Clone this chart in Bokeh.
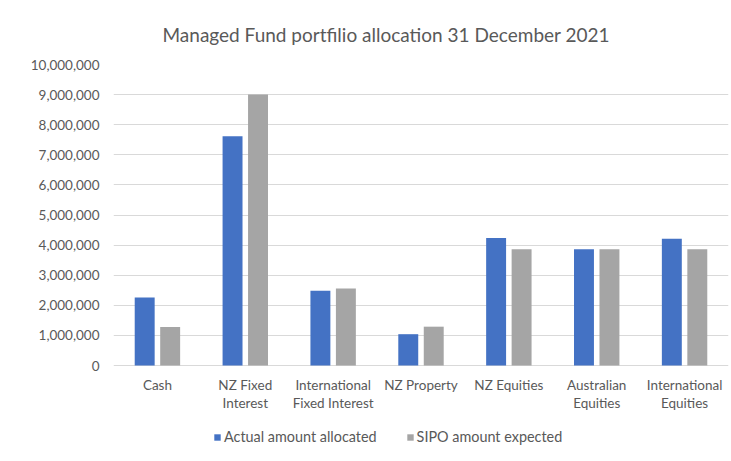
from bokeh.plotting import figure
from bokeh.models import (ColumnDataSource, Legend, LegendItem,
                          NumeralTickFormatter, FixedTicker, Range1d)
from bokeh.core.properties import value
from bokeh.transform import dodge
from bokeh.embed import file_html
from bokeh.resources import INLINE

categories = ["Cash", "NZ Fixed Interest", "International Fixed Interest",
              "NZ Property", "NZ Equities", "Australian Equities",
              "International Equities"]
label_line1 = ["Cash", "NZ Fixed", "International", "NZ Property",
               "NZ Equities", "Australian", "International"]
label_line2 = ["", "Interest", "Fixed Interest", "", "", "Equities", "Equities"]
actual = [2260000, 7620000, 2480000, 1040000, 4240000, 3860000, 4210000]
sipo = [1280000, 9000000, 2560000, 1290000, 3860000, 3860000, 3860000]
y_ticks = list(range(0, 10_000_001, 1_000_000))
series_names = ["Actual amount allocated", "SIPO amount expected"]
colors = ["#4472C4", "#A5A5A5"]
title_text = "Managed Fund portfilio allocation 31 December 2021"

FONT = "Lato"
TXT = "#595959"
Y_MAX = 10_000_000
# plot area: 301 px for the value axis, 96 px below it for labels + legend
Y_MIN = -Y_MAX * 96 / 301

pos = list(range(len(categories)))
source = ColumnDataSource(dict(pos=pos, cat=categories, actual=actual, sipo=sipo))
labels = ColumnDataSource(dict(pos=pos, line1=label_line1, line2=label_line2))

p = figure(x_range=Range1d(-0.5, len(categories) - 0.5),
           y_range=Range1d(Y_MIN, Y_MAX), x_axis_location=None,
           width=731, height=461, output_backend="svg", toolbar_location=None,
           min_border_left=113, min_border_right=3, min_border_top=64,
           min_border_bottom=0)

p.title.text = title_text
p.title.align = "left"
p.title.offset = 49
p.title.standoff = 37
p.title.text_line_height = 1.0
p.title.text_font = FONT
p.title.text_font_size = "19px"
p.title.text_font_style = "normal"
p.title.text_color = TXT

p.outline_line_color = None
p.xgrid.grid_line_color = None
p.ygrid.grid_line_color = "#D9D9D9"
p.ygrid.grid_line_width = 1

p.yaxis.ticker = FixedTicker(ticks=y_ticks)
p.yaxis.formatter = NumeralTickFormatter(format="0,0")
p.yaxis.axis_line_color = None
p.yaxis.major_tick_line_color = None
p.yaxis.major_tick_out = 0
p.yaxis.major_tick_in = 0
p.yaxis.minor_tick_line_color = None
p.yaxis.major_label_standoff = 14
p.yaxis.major_label_text_font = FONT
p.yaxis.major_label_text_font_size = "13.5px"
p.yaxis.major_label_text_color = TXT

r1 = p.vbar(x=dodge("pos", -0.145), top="actual", bottom=0, width=0.227,
            source=source, fill_color=colors[0], line_color=None)
r2 = p.vbar(x=dodge("pos", 0.145), top="sipo", bottom=0, width=0.227,
            source=source, fill_color=colors[1], line_color=None)

# category labels (two lines) hung below the zero line
for col, off in (("line1", 19), ("line2", 37)):
    p.text(x="pos", y=0, text=col, source=labels, y_offset=off,
           text_align="center", text_baseline="middle",
           text_font=value(FONT), text_font_size="13.5px", text_color=TXT)

legend = Legend(items=[LegendItem(label=series_names[0], renderers=[r1]),
                       LegendItem(label=series_names[1], renderers=[r2])],
                location=(100, 16), orientation="horizontal",
                glyph_width=8, glyph_height=8, label_height=16,
                label_standoff=3, spacing=29, padding=0, margin=0,
                border_line_color=None, background_fill_alpha=0,
                label_text_font=FONT, label_text_font_size="14.4px",
                label_text_color=TXT)
p.add_layout(legend, "center")

open("out.html", "w").write(file_html(p, INLINE))
